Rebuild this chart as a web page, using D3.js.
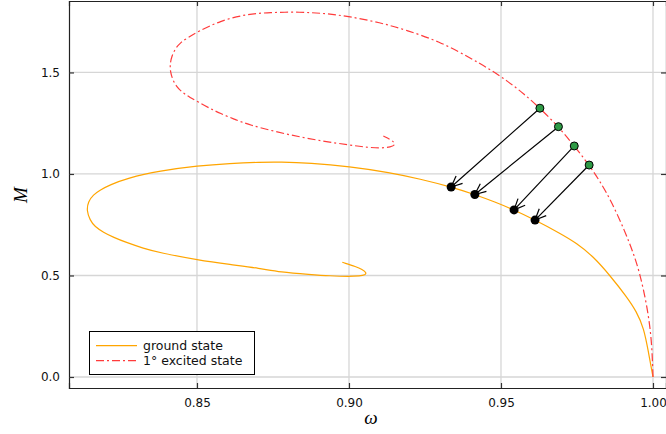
<!DOCTYPE html>
<html>
<head>
<meta charset="utf-8">
<script src="https://cdn.jsdelivr.net/npm/d3@7"></script>
<style>
body { margin: 0; background: #fff; }
</style>
</head>
<body>
<script>
var w = 666;
var h = 434;

// ground state branch (omega, M)
var groundOmega = [1.0, 0.9985, 0.997, 0.9946, 0.9913, 0.9859, 0.9804, 0.9749, 0.9694, 0.9612, 0.9543, 0.948,
  0.9414, 0.9336, 0.9234, 0.9135, 0.9, 0.8872, 0.8773, 0.8707, 0.8609, 0.8504, 0.8378, 0.8269, 0.8214, 0.8181,
  0.8159, 0.8142, 0.8137, 0.8148, 0.8164, 0.8192, 0.8225, 0.8269, 0.8323, 0.8378, 0.8504, 0.8609, 0.8707,
  0.8773, 0.8872, 0.8938, 0.9, 0.9036, 0.9053, 0.9058, 0.9043, 0.9025, 0.8978];
var groundM = [0.0, 0.123, 0.24, 0.322, 0.396, 0.499, 0.593, 0.659, 0.708, 0.773, 0.823, 0.862,
  0.899, 0.936, 0.975, 1.007, 1.037, 1.054, 1.059, 1.058, 1.052, 1.041, 1.016, 0.979, 0.946, 0.921,
  0.897, 0.864, 0.819, 0.773, 0.74, 0.713, 0.688, 0.662, 0.634, 0.612, 0.576, 0.554, 0.535,
  0.517, 0.505, 0.498, 0.495, 0.498, 0.502, 0.514, 0.53, 0.543, 0.565];

// first excited state branch
var excitedOmega = [1.0, 0.9996, 0.9981, 0.9957, 0.9934, 0.9908, 0.9865, 0.9826, 0.979, 0.9741, 0.9689, 0.9628,
  0.9576, 0.9524, 0.9464, 0.94, 0.9299, 0.919, 0.9102, 0.9, 0.8921, 0.8839, 0.874, 0.8658, 0.8576, 0.8504,
  0.847, 0.8444, 0.8428, 0.8416, 0.8411, 0.8413, 0.8419, 0.8433, 0.8454, 0.8477, 0.8504, 0.8542, 0.8576,
  0.8625, 0.8674, 0.8757, 0.8839, 0.8921, 0.9, 0.9053, 0.9102, 0.9138, 0.9155, 0.9141, 0.9113];
var excitedM = [0.0, 0.182, 0.346, 0.511, 0.616, 0.716, 0.86, 0.963, 1.044, 1.138, 1.233, 1.324,
  1.394, 1.455, 1.515, 1.571, 1.652, 1.708, 1.746, 1.776, 1.791, 1.798, 1.796, 1.786, 1.754, 1.702,
  1.672, 1.645, 1.616, 1.576, 1.537, 1.502, 1.468, 1.429, 1.399, 1.377, 1.355, 1.323, 1.299,
  1.268, 1.241, 1.209, 1.182, 1.16, 1.143, 1.132, 1.127, 1.132, 1.145, 1.167, 1.187];

// transitions: excited (green) -> ground (black)
var fromOmega = [0.9628, 0.9689, 0.9741, 0.979];
var fromM = [1.324, 1.233, 1.138, 1.044];
var toOmega = [0.9336, 0.9414, 0.9543, 0.9612];
var toM = [0.936, 0.899, 0.823, 0.773];

var xTicks = [0.85, 0.90, 0.95, 1.00];
var yTicks = [0.0, 0.5, 1.0, 1.5];
var legendLabels = ["ground state", "1\u00b0 excited state"];

var padL = 69, padR = 666, padT = 1, padB = 388;

var xScale = d3.scaleLinear()
  .domain([0.8079, 1.00428])
  .range([padL, padR]);
var yScale = d3.scaleLinear()
  .domain([-0.0542, 1.852])
  .range([padB, padT]);

var svg = d3.select("body").append("svg")
  .attr("width", w)
  .attr("height", h)
  .style("font-family", "'DejaVu Sans', sans-serif");

// grid
svg.append("g").selectAll("line").data(xTicks).enter().append("line")
  .attr("x1", function(d) { return xScale(d); })
  .attr("x2", function(d) { return xScale(d); })
  .attr("y1", padT).attr("y2", padB)
  .attr("stroke", "#d6d6d6").attr("stroke-width", 1.3);
svg.append("g").selectAll("line").data(yTicks).enter().append("line")
  .attr("y1", function(d) { return yScale(d); })
  .attr("y2", function(d) { return yScale(d); })
  .attr("x1", padL).attr("x2", padR)
  .attr("stroke", "#d6d6d6").attr("stroke-width", 1.3);

// axes (box frame with inward ticks)
var xAxis = d3.axisBottom(xScale).tickValues(xTicks).tickSize(-5).tickPadding(10)
  .tickFormat(d3.format(".2f"));
var yAxis = d3.axisLeft(yScale).tickValues(yTicks).tickSize(-5).tickPadding(9)
  .tickFormat(d3.format(".1f"));
var xTop = d3.axisTop(xScale).tickValues(xTicks).tickSize(-5).tickFormat("");
var yRight = d3.axisRight(yScale).tickValues(yTicks).tickSize(-5).tickFormat("");

function styleAxis(g) {
  g.select(".domain").attr("stroke", "#222").attr("stroke-width", 1.2);
  g.selectAll(".tick line").attr("stroke", "#333").attr("stroke-width", 1.2);
  g.selectAll(".tick text").attr("fill", "#111")
    .style("font-size", "12px")
    .style("font-family", "'DejaVu Sans', sans-serif");
}
svg.append("g").attr("transform", "translate(0," + padB + ")").call(xAxis).call(styleAxis);
svg.append("g").attr("transform", "translate(" + padL + ",0)").call(yAxis).call(styleAxis);
svg.append("g").attr("transform", "translate(0," + padT + ")").call(xTop).call(styleAxis);
svg.append("g").attr("transform", "translate(" + padR + ",0)").call(yRight).call(styleAxis);

// curves (basis spline to smooth out reading noise)
var line = d3.line()
  .x(function(d) { return xScale(d[0]); })
  .y(function(d) { return yScale(d[1]); })
  .curve(d3.curveBasis);

var ground = d3.zip(groundOmega, groundM);
var excited = d3.zip(excitedOmega, excitedM);

svg.append("path").datum(ground)
  .attr("d", line).attr("fill", "none")
  .attr("stroke", "#ffa500").attr("stroke-width", 1.2);
svg.append("path").datum(excited)
  .attr("d", line).attr("fill", "none")
  .attr("stroke", "#ff3b3b").attr("stroke-width", 1.2)
  .attr("stroke-dasharray", "8,3,2,3");

// arrows
var pairs = d3.range(fromOmega.length).map(function(i) {
  return { x1: xScale(fromOmega[i]), y1: yScale(fromM[i]), x2: xScale(toOmega[i]), y2: yScale(toM[i]) };
});
var arrows = svg.append("g").attr("stroke", "#000").attr("stroke-width", 1.2).attr("fill", "none");
pairs.forEach(function(p) {
  arrows.append("line")
    .attr("x1", p.x1).attr("y1", p.y1).attr("x2", p.x2).attr("y2", p.y2);
  var ang = Math.atan2(p.y2 - p.y1, p.x2 - p.x1);
  var len = 12, spread = 0.42;
  [ang + Math.PI - spread, ang + Math.PI + spread].forEach(function(a) {
    arrows.append("line")
      .attr("x1", p.x2).attr("y1", p.y2)
      .attr("x2", p.x2 + len * Math.cos(a)).attr("y2", p.y2 + len * Math.sin(a));
  });
});

// points
svg.append("g").selectAll("circle").data(d3.range(fromOmega.length)).enter().append("circle")
  .attr("cx", function(i) { return xScale(fromOmega[i]); })
  .attr("cy", function(i) { return yScale(fromM[i]); })
  .attr("r", 4).attr("fill", "#2e9a45").attr("stroke", "#000").attr("stroke-width", 1);
svg.append("g").selectAll("circle").data(d3.range(toOmega.length)).enter().append("circle")
  .attr("cx", function(i) { return xScale(toOmega[i]); })
  .attr("cy", function(i) { return yScale(toM[i]); })
  .attr("r", 4.5).attr("fill", "#000");

// legend
var lg = svg.append("g");
lg.append("rect").attr("x", 89.5).attr("y", 331.5).attr("width", 165).attr("height", 43)
  .attr("fill", "#fff").attr("stroke", "#000").attr("stroke-width", 1);
var legendColors = ["#ffa500", "#ff3b3b"];
var legendDash = [null, "8,3,2,3"];
legendLabels.forEach(function(t, i) {
  var yy = 345.7 + i * 15;
  lg.append("line").attr("x1", 96).attr("x2", 137).attr("y1", yy).attr("y2", yy)
    .attr("stroke", legendColors[i]).attr("stroke-width", 1.2)
    .attr("stroke-dasharray", legendDash[i]);
  lg.append("text").attr("x", 143).attr("y", yy + 4.3)
    .style("font-size", "12.5px")
    .attr("fill", "#111").text(t);
});

// axis labels
svg.append("text").attr("x", 371).attr("y", 424).attr("text-anchor", "middle")
  .style("font-family", "'Liberation Serif', serif").style("font-style", "italic").style("font-size", "19px")
  .text("\u03c9");
svg.append("text").attr("transform", "translate(27,195) rotate(-90)").attr("text-anchor", "middle")
  .style("font-family", "'Liberation Serif', serif").style("font-style", "italic").style("font-size", "19px")
  .text("M");
</script>
</body>
</html>
